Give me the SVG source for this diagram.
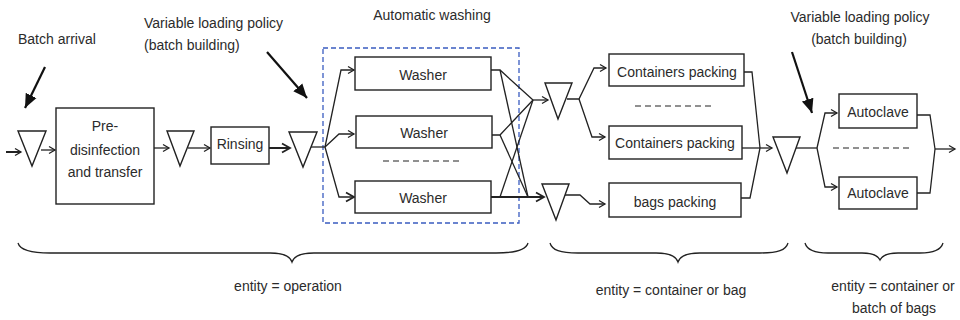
<svg xmlns="http://www.w3.org/2000/svg" width="960" height="320" viewBox="0 0 960 320">
<style>
text{font-family:"Liberation Sans",Arial,sans-serif;font-size:14px;fill:#2b2b2b}
.c{text-anchor:middle}
.box{fill:#fff;stroke:#222;stroke-width:1.4}
.tri{fill:#fff;stroke:#222;stroke-width:1.4}
.ln{fill:none;stroke:#222;stroke-width:1.3}
.thk{fill:none;stroke:#222;stroke-width:2}
.ptr{fill:none;stroke:#111;stroke-width:2.2}
.sep{stroke:#222;stroke-width:1.2;stroke-dasharray:6 4}
.brace{fill:none;stroke:#222;stroke-width:1.3}
</style>
<defs>
<marker id="a" markerUnits="userSpaceOnUse" markerWidth="10" markerHeight="10" refX="8" refY="5" orient="auto">
<path d="M2,1.5 L8,5 L2,8.5" fill="none" stroke="#222" stroke-width="1.3"/>
</marker>
<marker id="ab" markerUnits="userSpaceOnUse" markerWidth="12" markerHeight="12" refX="10" refY="6" orient="auto">
<path d="M2,1.5 L10,6 L2,10.5" fill="none" stroke="#222" stroke-width="1.8"/>
</marker>
<marker id="p" markerUnits="userSpaceOnUse" markerWidth="16" markerHeight="16" refX="14" refY="8" orient="auto">
<path d="M0,2 L14,8 L0,14 Z" fill="#111"/>
</marker>
</defs>

<g id="labels">
<text x="18" y="44">Batch arrival</text>
<text x="144" y="28">Variable loading policy</text>
<text x="144" y="50">(batch building)</text>
<text class="c" x="432" y="20">Automatic washing</text>
<text class="c" x="860" y="22">Variable loading policy</text>
<text class="c" x="859" y="44">(batch building)</text>
</g>

<g id="pointers">
<line class="ptr" x1="45" y1="67" x2="25" y2="108" marker-end="url(#p)"/>
<line class="ptr" x1="267" y1="52" x2="307" y2="98" marker-end="url(#p)"/>
<line class="ptr" x1="792" y1="52" x2="812" y2="113" marker-end="url(#p)"/>
</g>

<rect id="washing-group" x="323" y="48" width="196" height="175" fill="none" stroke="#3a5cc0" stroke-width="1.3" stroke-dasharray="5 3"/>

<g id="connectors">
<line class="thk" x1="6" y1="152" x2="21" y2="152" marker-end="url(#a)"/>
<line class="ln" x1="41" y1="150" x2="55" y2="150" marker-end="url(#a)"/>
<line class="ln" x1="154" y1="148" x2="169" y2="148" marker-end="url(#a)"/>
<line class="ln" x1="188" y1="148" x2="210" y2="148" marker-end="url(#a)"/>
<line class="thk" x1="269" y1="148" x2="290" y2="148" marker-end="url(#ab)"/>
<line class="ln" x1="311" y1="147" x2="325" y2="147"/>
<polyline class="ln" points="325,147 341,70 354,70" marker-end="url(#a)"/>
<polyline class="ln" points="325,147 339,134 354,134" marker-end="url(#a)"/>
<polyline class="ln" points="325,147 339,197 354,197" marker-end="url(#ab)"/>
<polyline class="ln" points="491,70 500,70 533,100"/>
<line class="ln" x1="500" y1="70" x2="528" y2="197"/>
<polyline class="ln" points="492,135 500,135 533,100"/>
<line class="ln" x1="500" y1="135" x2="528" y2="197"/>
<line class="ln" x1="500" y1="197" x2="533" y2="100"/>
<line class="thk" x1="491" y1="197" x2="544" y2="197" marker-end="url(#ab)"/>
<line class="ln" x1="533" y1="100" x2="548" y2="100" marker-end="url(#a)"/>
<polyline class="ln" points="567,99 579,99 594,68 606,68" marker-end="url(#a)"/>
<polyline class="ln" points="579,99 592,137 605,137" marker-end="url(#a)"/>
<polyline class="ln" points="565,195 580,195 590,204 605,204" marker-end="url(#a)"/>
<polyline class="ln" points="744,72 752,72 760,148"/>
<polyline class="ln" points="741,198 750,198 760,148"/>
<line class="ln" x1="742" y1="148" x2="772" y2="148" marker-end="url(#a)"/>
<line class="ln" x1="796" y1="148" x2="817" y2="148"/>
<polyline class="ln" points="817,148 825,113 837,113" marker-end="url(#a)"/>
<polyline class="ln" points="817,148 825,187 837,187" marker-end="url(#a)"/>
<polyline class="ln" points="917,115 930,115 935,149"/>
<polyline class="ln" points="917,193 930,193 935,149"/>
<line class="ln" x1="935" y1="149" x2="955" y2="149" marker-end="url(#a)"/>
</g>

<g id="queue1"><polygon class="tri" points="18,131 46,131 32,166"/></g>
<g id="predisinfection">
<rect class="box" x="56" y="108" width="98" height="96"/>
<text class="c" x="105" y="131">Pre-</text>
<text class="c" x="105" y="155">disinfection</text>
<text class="c" x="105" y="177">and transfer</text>
</g>
<g id="queue2"><polygon class="tri" points="167,131 194,131 180,166"/></g>
<g id="rinsing">
<rect class="box" x="211" y="127" width="58" height="37"/>
<text class="c" x="240" y="149">Rinsing</text>
</g>
<g id="queue3"><polygon class="tri" points="289,132 317,132 303,167"/></g>

<g id="washer1">
<rect class="box" x="355" y="57" width="136" height="33"/>
<text class="c" x="423" y="80">Washer</text>
</g>
<g id="washer2">
<rect class="box" x="356" y="116" width="136" height="32"/>
<text class="c" x="424" y="138">Washer</text>
</g>
<line class="sep" x1="383" y1="161" x2="462" y2="161"/>
<g id="washer3">
<rect class="box" x="355" y="181" width="136" height="32"/>
<text class="c" x="423" y="203">Washer</text>
</g>

<g id="queue4"><polygon class="tri" points="545,83 572,83 558,119"/></g>
<g id="queue5"><polygon class="tri" points="542,184 569,184 556,220"/></g>

<g id="containers1">
<rect class="box" x="609" y="54" width="135" height="32"/>
<text class="c" x="677" y="77">Containers packing</text>
</g>
<line class="sep" x1="635" y1="106" x2="713" y2="106"/>
<g id="containers2">
<rect class="box" x="609" y="126" width="133" height="33"/>
<text class="c" x="675" y="148">Containers packing</text>
</g>
<g id="bags">
<rect class="box" x="609" y="183" width="132" height="34"/>
<text class="c" x="675" y="207">bags packing</text>
</g>

<g id="queue6"><polygon class="tri" points="773,137 800,137 787,173"/></g>

<g id="autoclave1">
<rect class="box" x="839" y="94" width="78" height="34"/>
<text class="c" x="878" y="117">Autoclave</text>
</g>
<line class="sep" x1="833" y1="148" x2="912" y2="148"/>
<g id="autoclave2">
<rect class="box" x="839" y="177" width="78" height="32"/>
<text class="c" x="878" y="198">Autoclave</text>
</g>

<g id="braces">
<path class="brace" d="M18,243 C20,250 30,253 50,253 L270,253 C283,253 290,256 292,262 C294,256 301,253 314,253 L496,253 C516,253 526,250 528,243"/>
<path class="brace" d="M550,243 C552,250 560,253 578,253 L656,253 C670,253 676,256 678,262 C680,256 686,253 700,253 L760,253 C778,253 786,250 788,243"/>
<path class="brace" d="M805,243 C807,250 814,253 828,253 L862,253 C874,253 878,256 880,260 C882,256 886,253 898,253 L920,253 C934,253 941,250 943,243"/>
<text class="c" x="288" y="291">entity = operation</text>
<text class="c" x="671" y="295">entity = container or bag</text>
<text class="c" x="893" y="291">entity = container or</text>
<text class="c" x="894" y="313">batch of bags</text>
</g>
</svg>
